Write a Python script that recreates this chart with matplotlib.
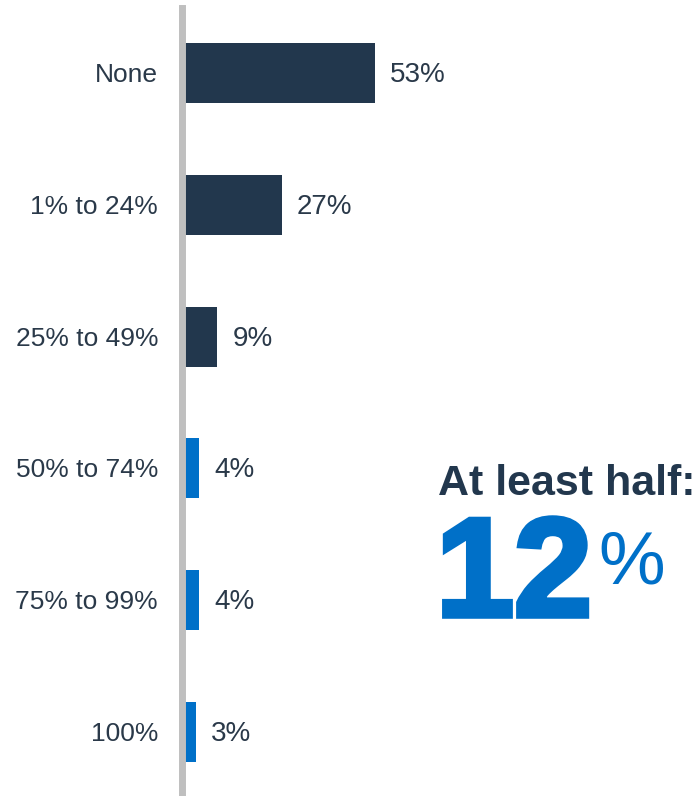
import matplotlib.pyplot as plt
import matplotlib.patheffects as pe

plt.rcParams['font.family'] = ['Liberation Sans', 'DejaVu Sans']

# share of respondents by category
categories = ['None', '1% to 24%', '25% to 49%', '50% to 74%', '75% to 99%', '100%']
values = [53, 27, 9, 4, 4, 3]
labels = ['53%', '27%', '9%', '4%', '4%', '3%']
at_least_half = 12

navy = '#22374D'
blue = '#0070C8'
text_col = '#2A3949'
colors = [navy, navy, navy, blue, blue, blue]

W, H = 695, 796
fig = plt.figure(figsize=(W / 100, H / 100), dpi=100)

# axes: left edge at bar start, top at 8px, bottom at figure edge
ax_left, ax_right = 185, 420
ax_top, ax_bottom = 8, 796
ax = fig.add_axes([ax_left / W, 1 - ax_bottom / H, (ax_right - ax_left) / W, (ax_bottom - ax_top) / H])

ypos = list(range(len(categories)))
ax.barh(ypos, values, height=0.455, color=colors)
ax.set_xlim(0, (ax_right - ax_left) / 3.585)
ax.set_ylim(5.486, -0.493)

for y, cat, v, lab in zip(ypos, categories, values, labels):
    ax.annotate(cat, xy=(0, y), xytext=(-27, -2), textcoords='offset pixels',
                ha='right', va='center', fontsize=19, color=text_col)
    ax.annotate(lab, xy=(v, y), xytext=(15, -2), textcoords='offset pixels',
                ha='left', va='center', fontsize=20, color=text_col)

for s in ['top', 'right', 'bottom']:
    ax.spines[s].set_visible(False)
ax.spines['left'].set_color('#BFBFBF')
ax.spines['left'].set_linewidth(5)
ax.spines['left'].set_position(('outward', 2.5))
ax.set_xticks([])
ax.set_yticks([])
ax.set_facecolor('none')

# callout on the right
fig.text(438 / W, 1 - 495 / H, 'At least half:', ha='left', va='baseline',
         fontsize=31, fontweight='bold', color=navy)
big = fig.text(436 / W, 1 - 616 / H, str(at_least_half), ha='left', va='baseline',
               fontsize=101, fontweight='bold', color=blue)
big.set_path_effects([pe.withStroke(linewidth=4, foreground=blue, joinstyle='miter')])
fig.text(598 / W, 1 - 583 / H, '%', ha='left', va='baseline',
         fontsize=54, color=blue)

fig.savefig('out.png', dpi=100)
